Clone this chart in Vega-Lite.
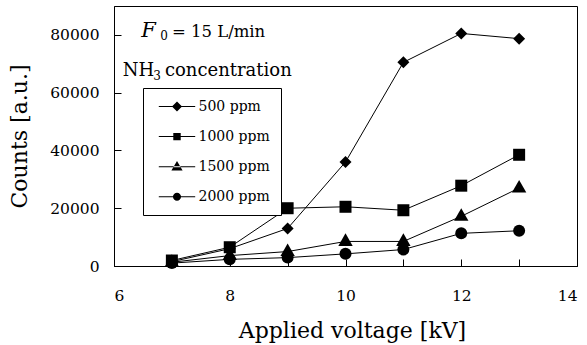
{
  "$schema": "https://vega.github.io/schema/vega-lite/v6.json",
  "width": 463,
  "height": 260,
  "autosize": "none",
  "padding": {"left": 114, "top": 6, "right": 10, "bottom": 79},
  "background": "white",
  "config": {
    "view": {"stroke": "black", "strokeWidth": 1},
    "font": "DejaVu Serif",
    "axis": {
      "domainColor": "black",
      "tickColor": "black",
      "labelColor": "black",
      "titleColor": "black",
      "labelFont": "DejaVu Serif",
      "titleFont": "DejaVu Serif",
      "labelFontSize": 15.5,
      "titleFontSize": 22,
      "titleFontWeight": "normal",
      "grid": false,
      "tickSize": -7
    }
  },
  "layer": [
    {
      "data": {
        "values": [
          {"voltage": 7, "counts": 1000, "series": "2000 ppm"},
          {"voltage": 8, "counts": 2300, "series": "2000 ppm"},
          {"voltage": 9, "counts": 2900, "series": "2000 ppm"},
          {"voltage": 10, "counts": 4200, "series": "2000 ppm"},
          {"voltage": 11, "counts": 5700, "series": "2000 ppm"},
          {"voltage": 12, "counts": 11300, "series": "2000 ppm"},
          {"voltage": 13, "counts": 12200, "series": "2000 ppm"},
          {"voltage": 7, "counts": 1300, "series": "1500 ppm"},
          {"voltage": 8, "counts": 3600, "series": "1500 ppm"},
          {"voltage": 9, "counts": 5000, "series": "1500 ppm"},
          {"voltage": 10, "counts": 8500, "series": "1500 ppm"},
          {"voltage": 11, "counts": 8500, "series": "1500 ppm"},
          {"voltage": 12, "counts": 17200, "series": "1500 ppm"},
          {"voltage": 13, "counts": 27000, "series": "1500 ppm"},
          {"voltage": 7, "counts": 1500, "series": "500 ppm"},
          {"voltage": 8, "counts": 6000, "series": "500 ppm"},
          {"voltage": 9, "counts": 13000, "series": "500 ppm"},
          {"voltage": 10, "counts": 36000, "series": "500 ppm"},
          {"voltage": 11, "counts": 70500, "series": "500 ppm"},
          {"voltage": 12, "counts": 80500, "series": "500 ppm"},
          {"voltage": 13, "counts": 78700, "series": "500 ppm"},
          {"voltage": 7, "counts": 1900, "series": "1000 ppm"},
          {"voltage": 8, "counts": 6500, "series": "1000 ppm"},
          {"voltage": 9, "counts": 20000, "series": "1000 ppm"},
          {"voltage": 10, "counts": 20500, "series": "1000 ppm"},
          {"voltage": 11, "counts": 19300, "series": "1000 ppm"},
          {"voltage": 12, "counts": 27800, "series": "1000 ppm"},
          {"voltage": 13, "counts": 38500, "series": "1000 ppm"}
        ]
      },
      "encoding": {
        "x": {
          "field": "voltage",
          "type": "quantitative",
          "scale": {"domain": [6, 14], "nice": false, "zero": false},
          "axis": {
            "title": "Applied voltage [kV]",
            "values": [6, 7, 8, 9, 10, 11, 12, 13, 14],
            "format": "d",
            "labelExpr": "datum.value % 2 == 0 ? datum.label : ''",
            "labelPadding": 29,
            "titlePadding": 17,
            "titleX": 238,
            "titleAlign": "center"
          }
        },
        "y": {
          "field": "counts",
          "type": "quantitative",
          "scale": {"domain": [0, 90000], "nice": false},
          "axis": {
            "title": "Counts [a.u.]",
            "values": [0, 10000, 20000, 30000, 40000, 50000, 60000, 70000, 80000, 90000],
            "format": "d",
            "labelExpr": "datum.value % 20000 == 0 ? datum.label : ''",
            "labelPadding": 22,
            "titlePadding": 18
          }
        }
      },
      "layer": [
        {
          "mark": {"type": "line", "color": "black", "strokeWidth": 1},
          "encoding": {"detail": {"field": "series"}}
        },
        {
          "mark": {"type": "point", "filled": true, "color": "black", "opacity": 1, "size": 144},
          "encoding": {
            "shape": {
              "field": "series",
              "type": "nominal",
              "scale": {
                "domain": ["500 ppm", "1000 ppm", "1500 ppm", "2000 ppm"],
                "range": ["diamond", "square", "M-1.2,0.75L1.2,0.75L0,-1.35Z", "circle"]
              },
              "legend": null
            }
          }
        },
        {
          "mark": {"type": "point", "filled": true, "color": "black", "opacity": 0, "size": 196},
          "encoding": {
            "shape": {
              "field": "series",
              "type": "nominal",
              "scale": {
                "domain": ["500 ppm", "1000 ppm", "1500 ppm", "2000 ppm"],
                "range": [
                  "M-2.6,-0.07H2.6V0.07H-2.6ZM0,-0.72L0.72,0L0,0.72L-0.72,0Z",
                  "M-2.6,-0.07H2.6V0.07H-2.6ZM-0.53,-0.53H0.53V0.53H-0.53Z",
                  "M-2.6,-0.07H2.6V0.07H-2.6ZM-0.8,0.55L0.8,0.55L0,-0.8Z",
                  "M-2.6,-0.07H2.6V0.07H-2.6ZM0.58,0A0.58,0.58,0,1,1,-0.58,0A0.58,0.58,0,1,1,0.58,0Z"
                ]
              },
              "legend": {
                "orient": "none",
                "legendX": 29,
                "legendY": 82,
                "title": null,
                "strokeColor": "black",
                "fillColor": "white",
                "padding": 11,
                "symbolSize": 196,
                "symbolOffset": 15.5,
                "labelOffset": 14,
                "rowPadding": 15.1,
                "symbolStrokeColor": "black",
                "symbolStrokeWidth": 0.5,
                "symbolFillColor": "black",
                "symbolOpacity": 1,
                "labelFont": "DejaVu Serif",
                "labelFontSize": 14,
                "labelColor": "black"
              }
            }
          }
        }
      ],
      "resolve": {"scale": {"shape": "independent"}}
    },
    {
      "data": {"values": [{"x": 6.47, "y": 79300, "text": "F"}]},
      "mark": {"type": "text", "align": "left", "baseline": "alphabetic", "font": "DejaVu Serif", "fontSize": 21, "fontStyle": "italic", "color": "black"},
      "encoding": {
        "x": {"field": "x", "type": "quantitative"},
        "y": {"field": "y", "type": "quantitative"},
        "text": {"field": "text"}
      }
    },
    {
      "data": {"values": [{"x": 6.8, "y": 78200, "text": "0"}, {"x": 6.68, "y": 64400, "text": "3"}]},
      "mark": {"type": "text", "align": "left", "baseline": "alphabetic", "font": "DejaVu Serif", "fontSize": 12, "color": "black"},
      "encoding": {
        "x": {"field": "x", "type": "quantitative"},
        "y": {"field": "y", "type": "quantitative"},
        "text": {"field": "text"}
      }
    },
    {
      "data": {"values": [{"x": 7.0, "y": 79300, "text": "= 15 L/min"}]},
      "mark": {"type": "text", "align": "left", "baseline": "alphabetic", "font": "DejaVu Serif", "fontSize": 16.5, "color": "black"},
      "encoding": {
        "x": {"field": "x", "type": "quantitative"},
        "y": {"field": "y", "type": "quantitative"},
        "text": {"field": "text"}
      }
    },
    {
      "data": {"values": [{"x": 6.15, "y": 65800, "text": "NH"}, {"x": 6.88, "y": 65800, "text": "concentration"}]},
      "mark": {"type": "text", "align": "left", "baseline": "alphabetic", "font": "DejaVu Serif", "fontSize": 18, "color": "black"},
      "encoding": {
        "x": {"field": "x", "type": "quantitative"},
        "y": {"field": "y", "type": "quantitative"},
        "text": {"field": "text"}
      }
    }
  ]
}
